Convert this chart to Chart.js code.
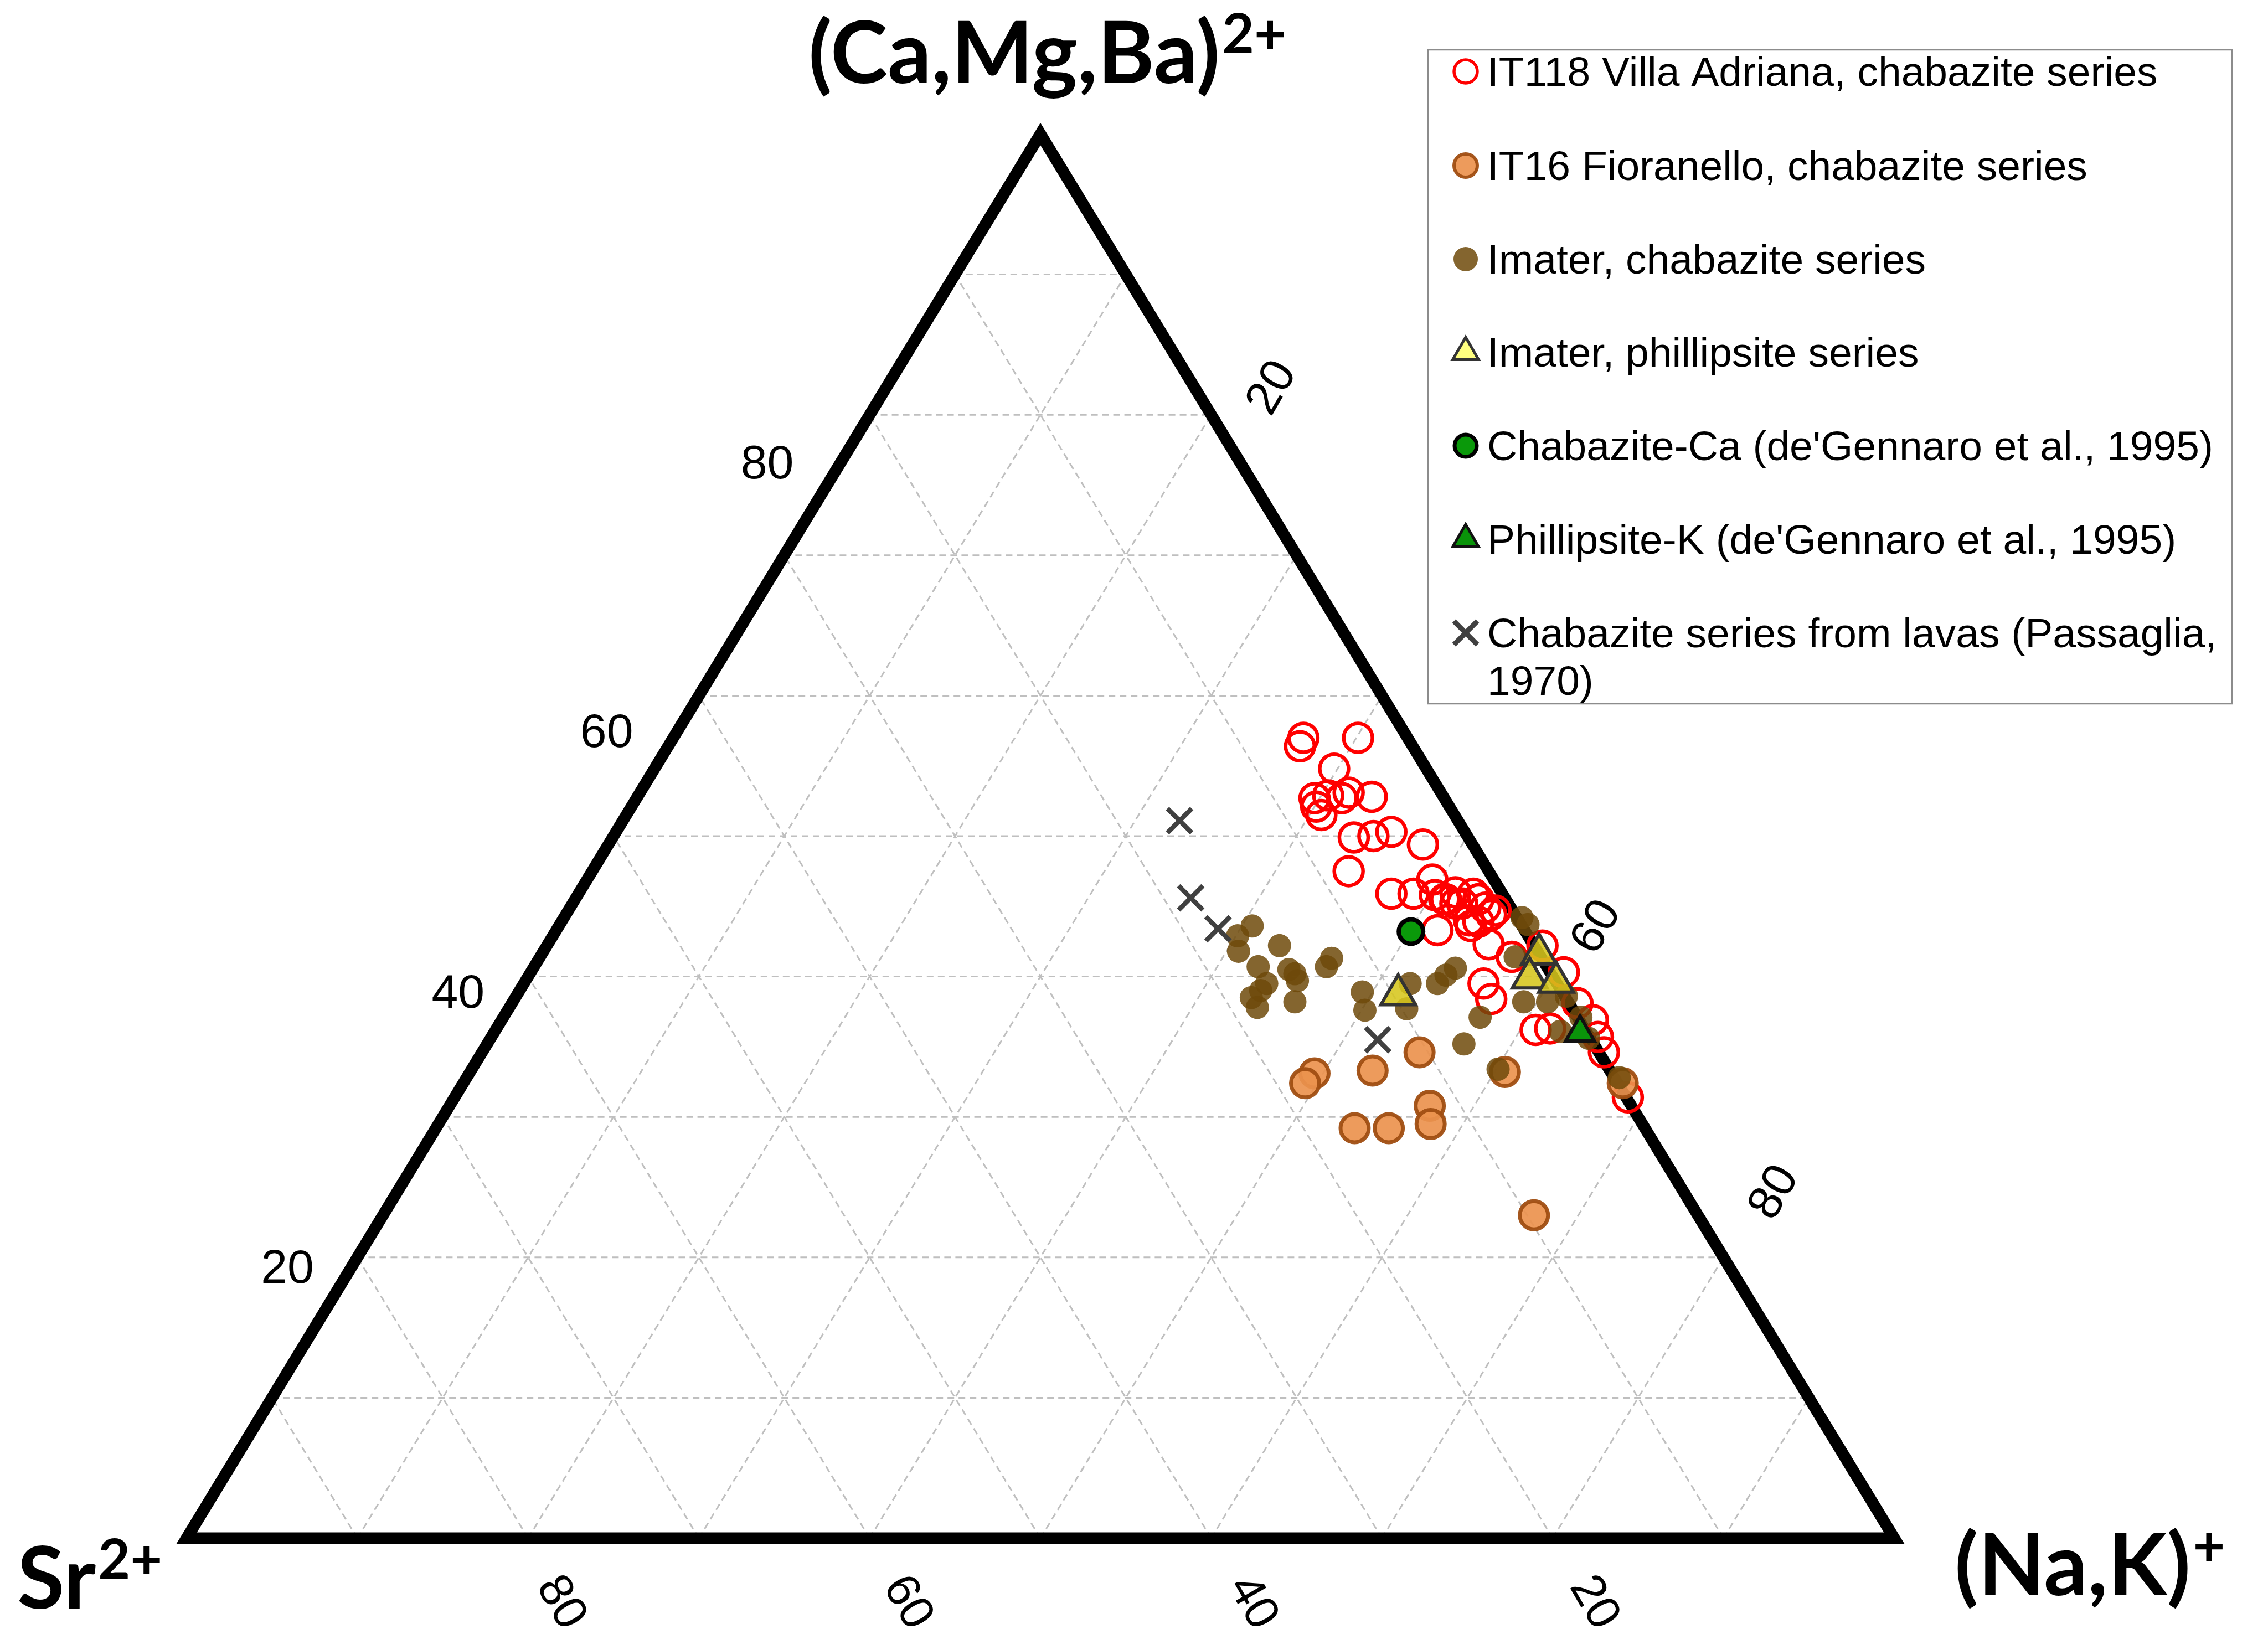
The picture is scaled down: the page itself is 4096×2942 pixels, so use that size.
<!DOCTYPE html>
<html>
<head>
<meta charset="utf-8">
<title>Ternary (Ca,Mg,Ba) - (Na,K) - Sr</title>
<script src="https://cdn.jsdelivr.net/npm/chart.js@4.4.1/dist/chart.umd.min.js"></script>
<style>
	html, body { margin: 0; padding: 0; background: #fff; }
	canvas { display: block; }
</style>
</head>
<body>
<canvas id="myChart" width="4096" height="2942"></canvas>
<script>
(() => {
	"use strict";

	// Compositions: [ (Ca,Mg,Ba)2+ %, (Na,K)+ % ], Sr2+ is the rest
	const it118 = [
		[57.0, 36.9], [56.4, 37.0], [57.0, 40.1], [54.8, 39.8], [52.7, 39.7], [52.1, 40.1],
		[51.5, 40.7], [52.9, 40.4], [52.7, 41.3], [53.1, 41.5], [52.8, 43.0], [49.9, 43.4],
		[50.0, 44.5], [50.3, 45.4], [49.4, 47.7], [47.5, 44.3], [45.9, 47.6], [45.9, 48.9],
		[46.9, 49.5], [45.8, 50.2], [45.5, 51.0], [46.0, 51.3], [45.2, 52.1], [45.9, 52.4],
		[45.5, 52.9], [44.9, 53.6], [44.4, 54.2], [44.7, 54.3], [43.9, 53.7], [43.6, 53.4],
		[43.3, 51.6], [45.5, 50.9], [45.2, 51.7], [44.0, 53.1], [42.3, 55.1], [41.4, 56.9],
		[42.2, 58.3], [39.5, 56.2], [38.4, 57.2], [40.3, 60.5], [38.1, 62.4], [36.9, 63.9],
		[35.7, 64.8], [34.6, 65.7], [36.2, 60.9], [36.3, 61.7], [31.4, 68.7],
	];
	const it16 = [
		[33.1, 49.5], [32.4, 49.3], [33.3, 52.8], [34.6, 54.9], [30.8, 57.4], [29.5, 58.1],
		[29.2, 53.8], [29.2, 55.8], [33.2, 60.6], [23.0, 67.4], [32.4, 67.9],
	];
	const imaterChabazite = [
		[43.6, 40.6], [42.9, 40.1], [41.8, 40.7], [42.2, 42.9], [40.7, 42.4], [39.5, 43.5],
		[40.5, 44.3], [40.2, 44.8], [39.7, 45.2], [38.5, 43.1], [39.0, 43.4], [37.8, 43.8],
		[38.2, 45.8], [41.3, 46.4], [40.7, 46.4], [38.9, 49.4], [37.6, 50.2], [39.5, 51.9],
		[37.7, 52.6], [39.5, 53.5], [40.6, 54.0], [40.1, 53.7], [44.2, 56.1], [43.7, 56.7],
		[41.4, 57.1], [38.2, 59.2], [38.2, 60.6], [38.6, 61.5], [37.1, 57.2], [35.2, 57.2],
		[36.1, 62.4], [37.1, 63.1], [33.4, 60.1], [32.8, 67.5], [35.6, 64.3],
	];
	const imaterPhillipsite = [[38.7, 51.6], [41.6, 58.4], [39.9, 58.7], [39.6, 60.4]];
	const chabaziteCa = [[43.2, 50.1]];
	const phillipsiteK = [[36.0, 63.6]];
	const passaglia = [[51.1, 32.6], [45.6, 36.0], [43.4, 38.7], [35.5, 52.0]];

	const legendLabels = [
		["IT118 Villa Adriana, chabazite series"],
		["IT16 Fioranello, chabazite series"],
		["Imater, chabazite series"],
		["Imater, phillipsite series"],
		["Chabazite-Ca (de'Gennaro et al., 1995)"],
		["Phillipsite-K (de'Gennaro et al., 1995)"],
		["Chabazite series from lavas (Passaglia,", "1970)"],
	];

	// grid every 10 %, tick labels on the three sides
	const gridSteps = [10, 20, 30, 40, 50, 60, 70, 80, 90];
	const leftTicks = ["80", "60", "40", "20"];
	const rightTicks = ["20", "60", "80"];
	const bottomTicks = ["80", "60", "40", "20"];

	// label anchors, in plot units (x across the base, y up)
	const leftTickPos = [[34.0, 76.4], [24.6, 57.3], [15.9, 38.7], [5.9, 19.1]];
	const rightTickPos = [[63.6, 81.9], [82.6, 43.5], [93.0, 24.6]];
	const bottomTickPos = [[21.9, -4.6], [42.2, -4.6], [62.4, -4.6], [82.4, -4.6]];

	// ternary -> cartesian
	const toXY = (p) => ({ x: p[1] + p[0] / 2, y: p[0] });

	const ternaryFrame = {
		id: "ternaryFrame",
		beforeDatasetsDraw(chart) {
			const { ctx } = chart;
			const xs = chart.scales.x;
			const ys = chart.scales.y;
			const pt = (ca, nak) => [xs.getPixelForValue(nak + ca / 2), ys.getPixelForValue(ca)];
			const seg = (a, b) => {
				ctx.beginPath();
				ctx.moveTo(a[0], a[1]);
				ctx.lineTo(b[0], b[1]);
				ctx.stroke();
			};

			ctx.save();
			ctx.strokeStyle = "#bfbfbf";
			ctx.lineWidth = 3;
			ctx.setLineDash([12, 8]);
			gridSteps.forEach((v) => {
				seg(pt(v, 0), pt(v, 100 - v));
				seg(pt(0, v), pt(100 - v, v));
				seg(pt(0, 100 - v), pt(100 - v, 0));
			});
			ctx.setLineDash([]);

			ctx.strokeStyle = "#000";
			ctx.lineWidth = 21;
			ctx.lineJoin = "miter";
			ctx.beginPath();
			const top = pt(100, 0);
			const right = pt(0, 100);
			const left = pt(0, 0);
			ctx.moveTo(top[0], top[1]);
			ctx.lineTo(right[0], right[1]);
			ctx.lineTo(left[0], left[1]);
			ctx.closePath();
			ctx.stroke();

			// tick labels
			ctx.fillStyle = "#000";
			ctx.font = "86px 'Liberation Sans', Arial, sans-serif";
			ctx.textAlign = "center";
			ctx.textBaseline = "middle";
			const label = (text, pos, angle) => {
				ctx.save();
				ctx.translate(xs.getPixelForValue(pos[0]), ys.getPixelForValue(pos[1]));
				ctx.rotate(angle);
				ctx.fillText(text, 0, 0);
				ctx.restore();
			};
			leftTicks.forEach((t, i) => label(t, leftTickPos[i], 0));
			rightTicks.forEach((t, i) => label(t, rightTickPos[i], -Math.PI / 3));
			bottomTicks.forEach((t, i) => label(t, bottomTickPos[i], Math.PI / 3));

			// apex titles
			ctx.textAlign = "left";
			ctx.textBaseline = "alphabetic";
			const title = (main, sup, x, y) => {
				ctx.font = "bold 156px Lato, 'Noto Sans', sans-serif";
				ctx.fillText(main, x, y);
				const w = ctx.measureText(main).width;
				ctx.font = "bold 100px Lato, 'Noto Sans', sans-serif";
				ctx.fillText(sup, x + w + 4, y - 54);
			};
			title("(Ca,Mg,Ba)", "2+", 1460, 150);
			title("Sr", "2+", 31, 2905);
			title("(Na,K)", "+", 3530, 2881);
			ctx.restore();
		},
		afterDraw(chart) {
			const { ctx } = chart;
			const box = { x: 2579, y: 90, w: 1452, h: 1181 };
			const baselines = [155, 325, 494, 662, 831, 1000, 1169];
			ctx.save();
			ctx.fillStyle = "#fff";
			ctx.fillRect(box.x, box.y, box.w, box.h);
			ctx.strokeStyle = "#8c8c8c";
			ctx.lineWidth = 2.5;
			ctx.strokeRect(box.x, box.y, box.w, box.h);

			ctx.font = "75px 'Liberation Sans', Arial, sans-serif";
			ctx.textAlign = "left";
			ctx.textBaseline = "alphabetic";
			chart.data.datasets.forEach((ds, i) => {
				const by = baselines[i];
				ctx.save();
				ctx.fillStyle = ds.legendFill || ds.pointBackgroundColor;
				ctx.strokeStyle = ds.pointBorderColor;
				ctx.lineWidth = ds.legendBorder;
				Chart.helpers.drawPoint(ctx, {
					pointStyle: ds.pointStyle,
					radius: ds.legendRadius,
					rotation: 0,
					borderWidth: ds.legendBorder,
				}, 2647, by - 26);
				ctx.restore();
				ctx.fillStyle = "#000";
				legendLabels[i].forEach((line, k) => {
					ctx.fillText(line, 2686, by + k * 86);
				});
			});
			ctx.restore();
		},
	};

	const ctx = document.getElementById("myChart");
	// eslint-disable-next-line no-unused-vars
	const myChart = new Chart(ctx, {
		type: "scatter",
		data: {
			datasets: [
				{
					label: legendLabels[0].join(" "),
					data: it118.map(toXY),
					pointStyle: "circle",
					pointRadius: 26,
					pointBorderWidth: 6.5,
					pointBorderColor: "#ff0000",
					pointBackgroundColor: "rgba(0,0,0,0)",
					legendRadius: 21,
					legendBorder: 5.5,
					order: 7,
				},
				{
					label: legendLabels[1].join(" "),
					data: it16.map(toXY),
					pointStyle: "circle",
					pointRadius: 25.5,
					pointBorderWidth: 7,
					pointBorderColor: "rgba(160,78,18,0.95)",
					pointBackgroundColor: "rgba(236,146,78,0.92)",
					legendRadius: 21,
					legendBorder: 6,
					order: 6,
				},
				{
					label: legendLabels[2].join(" "),
					data: imaterChabazite.map(toXY),
					pointStyle: "circle",
					pointRadius: 21,
					pointBorderWidth: 0,
					pointBorderColor: "rgba(0,0,0,0)",
					pointBackgroundColor: "rgba(110,74,10,0.85)",
					legendRadius: 22,
					legendBorder: 0,
					order: 5,
				},
				{
					label: legendLabels[3].join(" "),
					data: imaterPhillipsite.map(toXY),
					pointStyle: "triangle",
					pointRadius: 36,
					pointBorderWidth: 6,
					pointBorderColor: "#333333",
					pointBackgroundColor: "rgba(214,198,28,0.88)",
					legendFill: "#ffff80",
					legendRadius: 27,
					legendBorder: 5,
					order: 4,
				},
				{
					label: legendLabels[4].join(" "),
					data: chabaziteCa.map(toXY),
					pointStyle: "circle",
					pointRadius: 22,
					pointBorderWidth: 8,
					pointBorderColor: "#000000",
					pointBackgroundColor: "#0a990a",
					legendRadius: 20,
					legendBorder: 7,
					order: 3,
				},
				{
					label: legendLabels[5].join(" "),
					data: phillipsiteK.map(toXY),
					pointStyle: "triangle",
					pointRadius: 30,
					pointBorderWidth: 6,
					pointBorderColor: "#111111",
					pointBackgroundColor: "#0a940a",
					legendRadius: 27,
					legendBorder: 5,
					order: 2,
				},
				{
					label: legendLabels[6].join(" "),
					data: passaglia.map(toXY),
					pointStyle: "crossRot",
					pointRadius: 31,
					pointBorderWidth: 8.5,
					pointBorderColor: "#404040",
					pointBackgroundColor: "#404040",
					legendRadius: 30,
					legendBorder: 9,
					order: 1,
				},
			],
		},
		options: {
			responsive: false,
			devicePixelRatio: 1,
			animation: false,
			events: [],
			layout: {
				padding: { left: 337, right: 675, top: 242, bottom: 164 },
			},
			plugins: {
				legend: { display: false },
				tooltip: { enabled: false },
			},
			scales: {
				x: { type: "linear", min: 0, max: 100, display: false },
				y: { type: "linear", min: 0, max: 100, display: false },
			},
			elements: {
				point: { hoverRadius: 0 },
			},
		},
		plugins: [ternaryFrame],
	});
})();
</script>
</body>
</html>
